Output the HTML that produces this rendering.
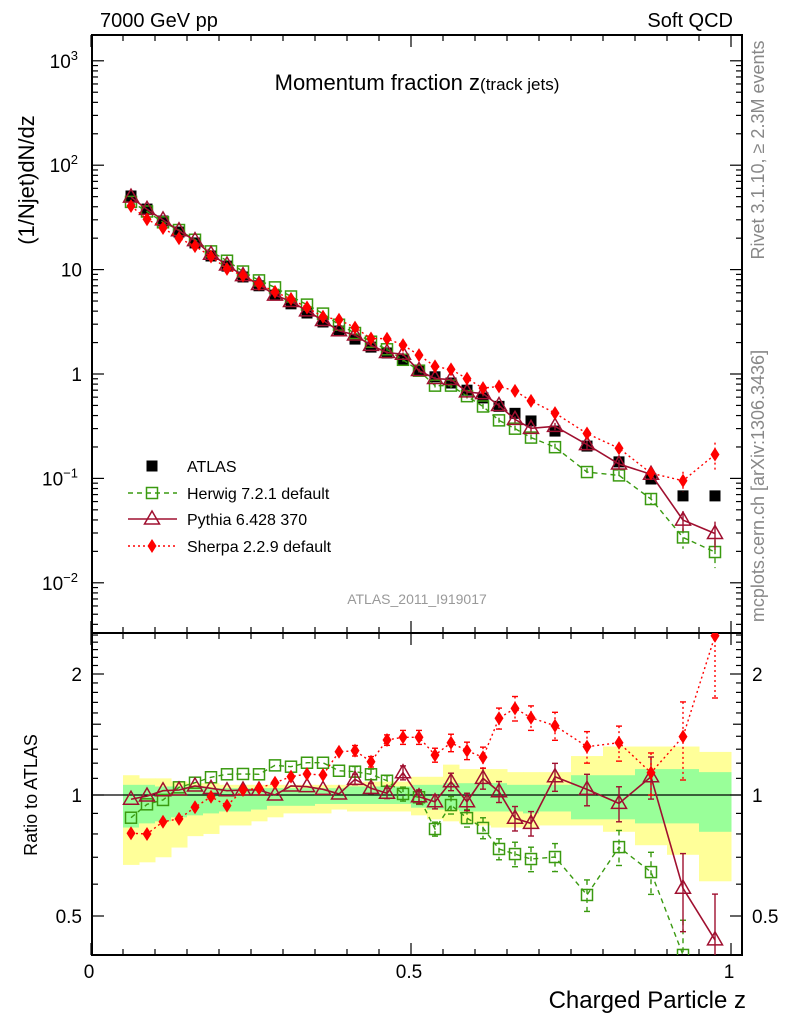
<!DOCTYPE html>
<html><head><meta charset="utf-8"><style>
html,body{margin:0;padding:0;background:#fff;}
svg{display:block;font-family:"Liberation Sans",sans-serif;}
</style></head><body>
<svg id="chart" width="786" height="1024" viewBox="0 0 786 1024" xmlns="http://www.w3.org/2000/svg">
<defs>
<clipPath id="clipMain"><rect x="92" y="35" width="650" height="598"/></clipPath>
<clipPath id="clipRatio"><rect x="92" y="633" width="650" height="322"/></clipPath>
</defs>
<text x="100" y="27" font-size="20">7000 GeV pp</text>
<text x="733" y="27" font-size="20" text-anchor="end">Soft QCD</text>
<text x="417" y="90" font-size="22" text-anchor="middle">Momentum fraction z<tspan font-size="17">(track jets)</tspan></text>
<text transform="translate(34,180) rotate(-90)" font-size="22" text-anchor="middle">(1/Njet)dN/dz</text>
<text transform="translate(37,795) rotate(-90)" font-size="18" text-anchor="middle">Ratio to ATLAS</text>
<text x="746" y="1008" font-size="24" text-anchor="end">Charged Particle z</text>
<text transform="translate(764,150) rotate(-90)" font-size="18" fill="#888" text-anchor="middle">Rivet 3.1.10, ≥ 2.3M events</text>
<text transform="translate(764,486) rotate(-90)" font-size="18" fill="#888" text-anchor="middle">mcplots.cern.ch [arXiv:1306.3436]</text>
<text x="417" y="604" font-size="14" fill="#999" text-anchor="middle">ATLAS_2011_I919017</text>
<g id="bands"></g>
<g id="axes"></g>
<g id="series"></g>
<g id="legend"></g>
</svg>
<script>
const zCenters=[0.0625,0.0875,0.1125,0.1375,0.1625,0.1875,0.2125,0.2375,0.2625,0.2875,0.3125,0.3375,0.3625,0.3875,0.4125,0.4375,0.4625,0.4875,0.5125,0.5375,0.5625,0.5875,0.6125,0.6375,0.6625,0.6875,0.725,0.775,0.825,0.875,0.925,0.975];
const zEdges=[0.05,0.075,0.1,0.125,0.15,0.175,0.2,0.225,0.25,0.275,0.3,0.325,0.35,0.375,0.4,0.425,0.45,0.475,0.5,0.525,0.55,0.575,0.6,0.625,0.65,0.675,0.7,0.75,0.8,0.85,0.9,0.95,1.0];
const atlasValues=[50.7,38,29.2,22.9,18.0,13.5,10.8,8.5,7.0,5.7,4.7,3.84,3.15,2.58,2.16,1.81,1.59,1.36,1.09,0.94,0.82,0.70,0.59,0.49,0.42,0.355,0.284,0.204,0.144,0.0987,0.068,0.068];
const herwigRatio=[0.878,0.948,0.972,1.045,1.073,1.107,1.126,1.128,1.126,1.185,1.176,1.203,1.203,1.149,1.143,1.126,1.085,1.006,0.987,0.823,0.944,0.876,0.828,0.734,0.713,0.693,0.701,0.564,0.742,0.643,0.40,0.29];
const pythiaRatio=[0.976,0.994,1.025,1.029,1.053,1.039,1.025,1.029,1.029,1.0,1.053,1.049,1.033,1.006,1.094,1.039,1.010,1.136,0.99,0.962,1.079,0.962,1.100,1.019,0.875,0.850,1.110,1.033,0.953,1.110,0.586,0.436];
const sherpaRatio=[0.803,0.800,0.858,0.872,0.932,0.99,0.941,1.029,1.039,1.073,1.111,1.128,1.121,1.281,1.289,1.210,1.370,1.392,1.392,1.257,1.349,1.289,1.241,1.552,1.643,1.557,1.487,1.319,1.349,1.136,1.397,2.49];
const modelErr=[0.01,0.01,0.01,0.01,0.01,0.01,0.01,0.01,0.01,0.01,0.01,0.02,0.02,0.02,0.03,0.03,0.03,0.04,0.04,0.04,0.05,0.05,0.06,0.06,0.07,0.07,0.08,0.09,0.10,0.12,0.22,0.30];
const yellowLo=[0.67,0.68,0.70,0.74,0.79,0.80,0.84,0.84,0.86,0.88,0.90,0.90,0.90,0.92,0.91,0.91,0.91,0.91,0.89,0.87,0.86,0.85,0.84,0.83,0.83,0.83,0.84,0.84,0.81,0.75,0.71,0.61];
const yellowHi=[1.12,1.10,1.10,1.08,1.07,1.07,1.06,1.06,1.06,1.06,1.06,1.06,1.06,1.06,1.07,1.08,1.08,1.08,1.11,1.11,1.19,1.16,1.16,1.16,1.14,1.14,1.14,1.25,1.32,1.32,1.32,1.28];
const greenLo=[0.83,0.85,0.86,0.88,0.89,0.90,0.91,0.91,0.92,0.94,0.94,0.94,0.95,0.95,0.95,0.95,0.95,0.95,0.93,0.92,0.92,0.91,0.91,0.91,0.91,0.90,0.91,0.87,0.87,0.85,0.85,0.81];
const greenHi=[1.06,1.06,1.05,1.05,1.05,1.04,1.04,1.04,1.04,1.04,1.04,1.04,1.04,1.04,1.05,1.05,1.05,1.05,1.06,1.06,1.07,1.07,1.07,1.07,1.06,1.06,1.06,1.12,1.12,1.16,1.16,1.14];
const legendLabels=["ATLAS","Herwig 7.2.1 default","Pythia 6.428 370","Sherpa 2.2.9 default"];

const NS="http://www.w3.org/2000/svg";
const X0=92,X1=742,TOP=35,MID=633,BOT=955;
function xs(z){return X0-1+640*z;}
function ys(v){return 374-104.4*Math.log10(v);}
function yr(r){return 795-121*Math.log2(r);}
function mk(tag,attrs,parent){const e=document.createElementNS(NS,tag);for(const k in attrs)e.setAttribute(k,attrs[k]);parent.appendChild(e);return e;}
const bandsG=document.getElementById('bands');
const axesG=document.getElementById('axes');
const serG=document.getElementById('series');
const legG=document.getElementById('legend');

const bg=mk('g',{'clip-path':'url(#clipRatio)'},bandsG);
for(let i=0;i<zCenters.length;i++){
  const xa=xs(zEdges[i]),xb=xs(zEdges[i+1]);
  const r1=mk('rect',{x:xa,y:yr(yellowHi[i]),width:xb-xa+0.5,height:yr(yellowLo[i])-yr(yellowHi[i]),fill:'#ffff99'},bg);
  
  
  const r2=mk('rect',{x:xa,y:yr(greenHi[i]),width:xb-xa+0.5,height:yr(greenLo[i])-yr(greenHi[i]),fill:'#99ff99'},bg);
  
  
}
const one=mk('line',{x1:X0,x2:X1,y1:yr(1),y2:yr(1),stroke:'#000','stroke-width':1.2},bandsG);



const f1=mk('rect',{x:X0,y:TOP,width:X1-X0,height:MID-TOP,fill:'none',stroke:'#000','stroke-width':2},axesG);


const f2=mk('rect',{x:X0,y:MID,width:X1-X0,height:BOT-MID,fill:'none',stroke:'#000','stroke-width':2},axesG);



for(let k=0;k<=20;k++){
  const z=k*0.05,x=xs(z),L=(k%10==0)?12:6;
  for(const [yb,dir] of [[TOP,1],[MID,-1],[MID,1],[BOT,-1]]){
    mk('line',{x1:x,x2:x,y1:yb,y2:yb+dir*L,stroke:'#000','stroke-width':1.2},axesG);
  }
}
[[0,'0'],[0.5,'0.5'],[1,'1']].forEach(([z,t])=>{
  const e=mk('text',{x:xs(z)-2,y:978,'font-size':19,'text-anchor':'middle'},axesG);e.textContent=t;
  
  
});
for(let d=-3;d<=3;d++){
  for(let m=1;m<=9;m++){
    const v=m*Math.pow(10,d),y=ys(v);
    if(y<TOP||y>MID)continue;
    const L=m==1?12:6;
    mk('line',{x1:X0,x2:X0+L,y1:y,y2:y,stroke:'#000','stroke-width':1.2},axesG);
    mk('line',{x1:X1,x2:X1-L,y1:y,y2:y,stroke:'#000','stroke-width':1.2},axesG);
  }
}
const yl=[[1000,'10','3'],[100,'10','2'],[10,'10',''],[1,'1',''],[0.1,'10','−1'],[0.01,'10','−2']];
yl.forEach(([v,b,e])=>{
  const t=mk('text',{x:e?78:82,y:ys(v)+7,'font-size':19,'text-anchor':'end'},axesG);
  
  
  t.textContent=b;
  if(e){const s=mk('tspan',{dy:-8,'font-size':13},t);s.textContent=e;}
});
const rt=[0.4,0.5,0.6,0.7,0.8,0.9,1,1.1,1.2,1.3,1.4,1.5,1.6,1.7,1.8,1.9,2,2.1,2.2,2.3,2.4,2.5];
rt.forEach(r=>{const y=yr(r);if(y<MID||y>BOT)return;const L=(r==1||r==2||r==0.5)?12:(r==1.5?9:6);
  mk('line',{x1:X0,x2:X0+L,y1:y,y2:y,stroke:'#000','stroke-width':1.2},axesG);
  mk('line',{x1:X1,x2:X1-L,y1:y,y2:y,stroke:'#000','stroke-width':1.2},axesG);});
[[2,'2'],[1,'1'],[0.5,'0.5']].forEach(([r,t])=>{
  const a=mk('text',{x:82,y:yr(r)+7,'font-size':19,'text-anchor':'end'},axesG);a.textContent=t;
  
  
  const b=mk('text',{x:752,y:yr(r)+7,'font-size':19},axesG);b.textContent=t;
  
  
});

function marker(kind,x,y,g){
  let e;
  if(kind==='atlas'){e=mk('rect',{x:x-5.5,y:y-5.5,width:11,height:11,fill:'#000'},g);}
  else if(kind==='herwig'){e=mk('rect',{x:x-5.5,y:y-5.5,width:11,height:11,fill:'none',stroke:'#3a9a10','stroke-width':1.5},g);}
  else if(kind==='pythia'){e=mk('path',{d:`M${x},${y-8}L${x+7.5},${y+5}L${x-7.5},${y+5}Z`,fill:'none',stroke:'#a01030','stroke-width':1.5},g);}
  else {e=mk('path',{d:`M${x},${y-7}L${x+4.5},${y}L${x},${y+7}L${x-4.5},${y}Z`,fill:'#ff0000'},g);}
  return e;
}
const styles={herwig:{c:'#3a9a10',dash:'5,4',w:1.4},pythia:{c:'#a01030',dash:'',w:1.6},sherpa:{c:'#ff0000',dash:'2,3',w:1.4}};
function drawSeries(kind,ratio){
  const st=styles[kind];
  const gm=mk('g',{'clip-path':'url(#clipMain)'},serG);
  
  
  const gr=mk('g',{'clip-path':'url(#clipRatio)'},serG);
  
  
  let pm='',pr='';
  zCenters.forEach((z,i)=>{const v=atlasValues[i]*ratio[i];pm+=(i?'L':'M')+xs(z)+','+ys(v);pr+=(i?'L':'M')+xs(z)+','+yr(ratio[i]);});
  mk('path',{d:pm,fill:'none',stroke:st.c,'stroke-width':st.w,'stroke-dasharray':st.dash},gm);
  mk('path',{d:pr,fill:'none',stroke:st.c,'stroke-width':st.w,'stroke-dasharray':st.dash},gr);
  zCenters.forEach((z,i)=>{
    const x=xs(z),r=ratio[i],e=modelErr[i];
    const ya=yr(r*(1+e)),yb=yr(r*(1-e));
    if(e>0.02){
      mk('line',{x1:x,x2:x,y1:ya,y2:yb,stroke:st.c,'stroke-width':1.4,'stroke-dasharray':st.dash},gr);
      mk('line',{x1:x-3,x2:x+3,y1:ya,y2:ya,stroke:st.c,'stroke-width':1.4},gr);
      mk('line',{x1:x-3,x2:x+3,y1:yb,y2:yb,stroke:st.c,'stroke-width':1.4},gr);
      const v=atlasValues[i]*r;
      mk('line',{x1:x,x2:x,y1:ys(v*(1+e)),y2:ys(v*(1-e)),stroke:st.c,'stroke-width':1.4,'stroke-dasharray':st.dash},gm);
    }
    const m1=marker(kind,x,ys(atlasValues[i]*r),gm);
    
    
    const m2=marker(kind,x,yr(r),gr);
    
    
  });
}
const ga=mk('g',{'clip-path':'url(#clipMain)'},serG);


zCenters.forEach((z,i)=>{
  const m=marker('atlas',xs(z),ys(atlasValues[i]),ga);
  
  
});
drawSeries('herwig',herwigRatio);
drawSeries('pythia',pythiaRatio);
drawSeries('sherpa',sherpaRatio);

const kinds=['atlas','herwig','pythia','sherpa'];
const ly=[466,493,519,546];
kinds.forEach((k,i)=>{
  const g=mk('g',{},legG);
  
  
  if(k!=='atlas'){const st=styles[k];mk('line',{x1:128,x2:177,y1:ly[i],y2:ly[i],stroke:st.c,'stroke-width':st.w,'stroke-dasharray':st.dash},g);}
  marker(k,152,ly[i],g);
  const t=mk('text',{x:187,y:ly[i]+6,'font-size':16},g);t.textContent=legendLabels[i];
});
</script>
</body></html>
